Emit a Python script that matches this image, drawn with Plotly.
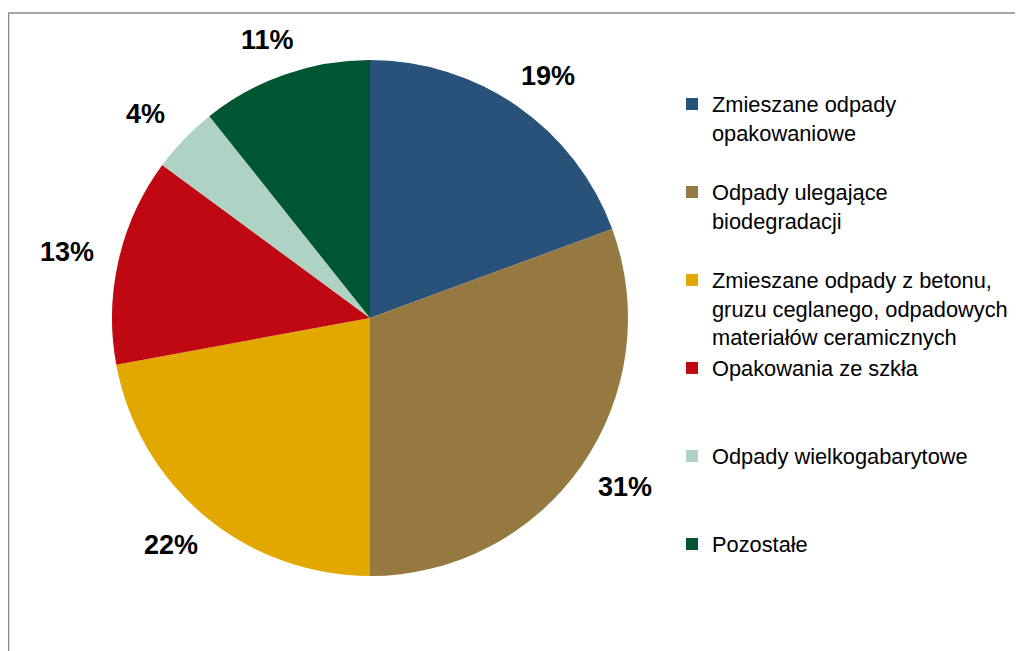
import math
import plotly.graph_objects as go

categories = [
    "Zmieszane odpady<br>opakowaniowe",
    "Odpady ulegające<br>biodegradacji",
    "Zmieszane odpady z betonu,<br>gruzu ceglanego, odpadowych<br>materiałów ceramicznych",
    "Opakowania ze szkła",
    "Odpady wielkogabarytowe",
    "Pozostałe",
]
values = [19.4, 30.6, 22.1, 13.0, 4.2, 10.7]
colors = ["#28527A", "#967841", "#E2A800", "#C00812", "#AED3C5", "#005632"]

W, H = 1023, 651
OFF = 8  # page margin of the browser around the figure
# pie domain in paper units
dom_x = [(112 - OFF) / W, (628 - OFF) / W]
dom_y = [1 - (576 - OFF) / H, 1 - (60 - OFF) / H]

# pad each legend entry to three lines so entries are evenly spaced
legend_labels = []
for c in categories:
    n = c.count("<br>") + 1
    legend_labels.append(c + "<br>&nbsp;" * (3 - n))

fig = go.Figure(
    go.Pie(
        labels=legend_labels,
        values=values,
        sort=False,
        direction="clockwise",
        rotation=0,
        marker=dict(colors=colors, line=dict(width=0)),
        textinfo="none",
        hoverinfo="label+percent",
        domain=dict(x=dom_x, y=dom_y),
    )
)

# percentage labels placed outside the pie along each slice's middle angle
LABEL_SIZE = 27
total = sum(values)
r_px = min((dom_x[1] - dom_x[0]) * W, (dom_y[1] - dom_y[0]) * H) / 2
cx = (dom_x[0] + dom_x[1]) / 2
cy = (dom_y[0] + dom_y[1]) / 2
gap = 26
half_w = 1.0 * LABEL_SIZE
half_h = 0.4 * LABEL_SIZE
annotations = []
cum = 0.0
for v in values:
    mid = (cum + v / 2) / total * 2 * math.pi
    cum += v
    annotations.append(dict(
        x=cx + (r_px + gap + half_w) * math.sin(mid) / W,
        y=cy + (r_px + gap + half_h) * math.cos(mid) / H,
        xref="paper", yref="paper",
        text=f"{round(v / total * 100):d}%",
        showarrow=False,
        xanchor="center", yanchor="middle",
        font=dict(family="Liberation Sans, Arial", size=LABEL_SIZE, color="#000000", weight="bold"),
    ))

fig.update_layout(
    width=W,
    height=H,
    margin=dict(l=0, r=0, t=0, b=0, autoexpand=False),
    paper_bgcolor="white",
    plot_bgcolor="white",
    showlegend=True,
    legend=dict(
        x=(663 - OFF + 9) / W,
        y=0.886 - 1 / H,
        xanchor="left",
        yanchor="top",
        valign="top",
        font=dict(family="Liberation Sans, Arial", size=21.8, color="#000000"),
        itemwidth=30,
        bgcolor="rgba(0,0,0,0)",
    ),
    annotations=annotations,
    shapes=[
        dict(type="line", xref="paper", yref="paper", x0=0.5 / W, x1=1.0, y0=1 - (13 - OFF) / H,
             y1=1 - (13 - OFF) / H, line=dict(color="#888888", width=1.5)),
        dict(type="line", xref="paper", yref="paper", x0=0.5 / W, x1=0.5 / W, y0=0.0,
             y1=1 - (13 - OFF) / H, line=dict(color="#888888", width=1.5)),
    ],
)

fig.write_html("out.html")
